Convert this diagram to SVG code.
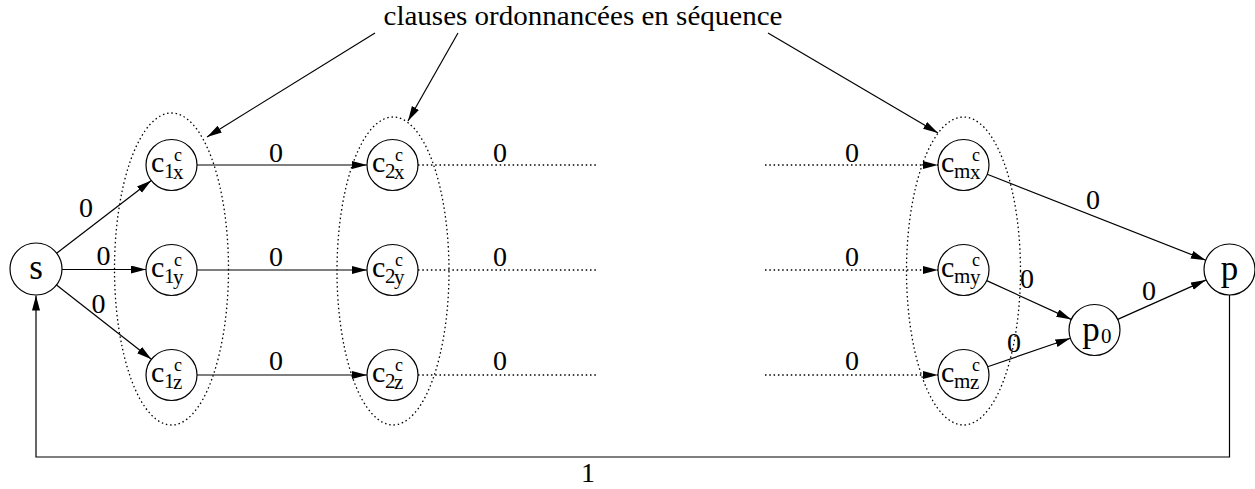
<svg xmlns="http://www.w3.org/2000/svg" width="1255" height="489" viewBox="0 0 1255 489" font-family="'Liberation Serif', 'DejaVu Serif', 'Times New Roman', serif">
<style>
.n{fill:#fff;stroke:#000;stroke-width:1.2}
.e{fill:none;stroke:#000;stroke-width:1.3;stroke-dasharray:1.5,2.8}
.l{fill:none;stroke:#000;stroke-width:1.2}
.d{fill:none;stroke:#000;stroke-width:1.3;stroke-dasharray:1.5,2.8}
text{font-family:'Liberation Serif','DejaVu Serif','Times New Roman',serif;fill:#000}
.big{font-size:30px}
.sub{font-size:21px}
.sup{font-size:18px}
.lab{font-size:28px;text-anchor:middle}
.nm{font-size:35px;text-anchor:middle}
</style>
<defs>
<marker id="ah" markerUnits="userSpaceOnUse" markerWidth="16" markerHeight="10" refX="15" refY="4" orient="auto">
<path d="M0,0 L15,4 L0,8 z" fill="#000"/>
</marker>
</defs>
<rect width="1255" height="489" fill="#fff"/>
<g id="title"><text x="583" y="25" font-size="28" text-anchor="middle" textLength="399" lengthAdjust="spacingAndGlyphs">clauses ordonnancées en séquence</text></g>
<g id="groups">
<ellipse class="e" cx="171.5" cy="269" rx="57" ry="156"/>
<ellipse class="e" cx="393" cy="271" rx="56" ry="154"/>
<ellipse class="e" cx="963.5" cy="271" rx="57" ry="154"/>
</g>
<g id="connectors">
<line class="l" x1="375" y1="33" x2="207" y2="137" marker-end="url(#ah)"/>
<line class="l" x1="458" y1="33" x2="408" y2="121" marker-end="url(#ah)"/>
<line class="l" x1="768" y1="33" x2="938" y2="133" marker-end="url(#ah)"/>
<line class="l" x1="56.6" y1="253.2" x2="151.3" y2="180.5" marker-end="url(#ah)"/>
<line class="l" x1="62" y1="269.5" x2="146" y2="269.5" marker-end="url(#ah)"/>
<line class="l" x1="56.5" y1="285" x2="151.4" y2="359.3" marker-end="url(#ah)"/>
<line class="l" x1="197" y1="165" x2="367" y2="165" marker-end="url(#ah)"/>
<line class="l" x1="197" y1="270" x2="367" y2="270" marker-end="url(#ah)"/>
<line class="l" x1="197" y1="375" x2="367" y2="375" marker-end="url(#ah)"/>
<line class="d" x1="418" y1="165" x2="597" y2="165"/>
<line class="d" x1="418" y1="270" x2="597" y2="270"/>
<line class="d" x1="418" y1="375" x2="597" y2="375"/>
<line class="d" x1="765" y1="165" x2="938" y2="165" marker-end="url(#ah)"/>
<line class="d" x1="765" y1="270" x2="938" y2="270" marker-end="url(#ah)"/>
<line class="d" x1="765" y1="375" x2="938" y2="375" marker-end="url(#ah)"/>
<line class="l" x1="987.2" y1="174.3" x2="1205.8" y2="260.2" marker-end="url(#ah)"/>
<line class="l" x1="986.7" y1="280.6" x2="1071.3" y2="319.4" marker-end="url(#ah)"/>
<line class="l" x1="987.6" y1="366.7" x2="1070.4" y2="338.3" marker-end="url(#ah)"/>
<line class="l" x1="1117.7" y1="319.4" x2="1205.8" y2="280.1" marker-end="url(#ah)"/>
<path class="l" d="M1229.5,295 V457 H36 V295.5" marker-end="url(#ah)"/>
<text class="lab" x="86" y="217">0</text>
<text class="lab" x="103.5" y="265">0</text>
<text class="lab" x="98.5" y="313">0</text>
<text class="lab" x="276" y="162">0</text>
<text class="lab" x="276" y="266">0</text>
<text class="lab" x="276" y="370">0</text>
<text class="lab" x="500" y="162">0</text>
<text class="lab" x="500" y="266">0</text>
<text class="lab" x="500" y="370">0</text>
<text class="lab" x="852" y="162">0</text>
<text class="lab" x="852" y="266">0</text>
<text class="lab" x="852" y="370">0</text>
<text class="lab" x="1093" y="209">0</text>
<text class="lab" x="1027" y="288">0</text>
<text class="lab" x="1149" y="300">0</text>
<text class="lab" x="1014" y="352">0</text>
<text class="lab" x="588" y="482">1</text>
</g>
<g id="s"><circle class="n" cx="36" cy="269" r="26"/><text class="nm" x="36" y="279">s</text></g>
<g id="c1x"><circle class="n" cx="171.5" cy="165" r="25.5"/><text class="big" x="151" y="172">c</text><text class="sub" x="164" y="178">1</text><text class="sup" x="174" y="161">c</text><text class="sub" x="173" y="179">x</text></g>
<g id="c1y"><circle class="n" cx="171.5" cy="270" r="25.5"/><text class="big" x="151" y="277">c</text><text class="sub" x="164" y="283">1</text><text class="sup" x="174" y="266">c</text><text class="sub" x="173" y="284">y</text></g>
<g id="c1z"><circle class="n" cx="171.5" cy="375" r="25.5"/><text class="big" x="151" y="382">c</text><text class="sub" x="164" y="388">1</text><text class="sup" x="174" y="371">c</text><text class="sub" x="173" y="389">z</text></g>
<g id="c2x"><circle class="n" cx="392.5" cy="165" r="25.5"/><text class="big" x="372" y="172">c</text><text class="sub" x="385" y="178">2</text><text class="sup" x="395" y="161">c</text><text class="sub" x="394" y="179">x</text></g>
<g id="c2y"><circle class="n" cx="392.5" cy="270" r="25.5"/><text class="big" x="372" y="277">c</text><text class="sub" x="385" y="283">2</text><text class="sup" x="395" y="266">c</text><text class="sub" x="394" y="284">y</text></g>
<g id="c2z"><circle class="n" cx="392.5" cy="375" r="25.5"/><text class="big" x="372" y="382">c</text><text class="sub" x="385" y="388">2</text><text class="sup" x="395" y="371">c</text><text class="sub" x="394" y="389">z</text></g>
<g id="cmx"><circle class="n" cx="963.5" cy="165" r="25.5"/><text class="big" x="941" y="172">c</text><text class="sub" x="954" y="178">m</text><text class="sup" x="972" y="161">c</text><text class="sub" x="970" y="179">x</text></g>
<g id="cmy"><circle class="n" cx="963.5" cy="270" r="25.5"/><text class="big" x="941" y="277">c</text><text class="sub" x="954" y="283">m</text><text class="sup" x="972" y="266">c</text><text class="sub" x="970" y="284">y</text></g>
<g id="cmz"><circle class="n" cx="963.5" cy="375" r="25.5"/><text class="big" x="941" y="382">c</text><text class="sub" x="954" y="388">m</text><text class="sup" x="972" y="371">c</text><text class="sub" x="970" y="389">z</text></g>
<g id="p0"><circle class="n" cx="1094.5" cy="330" r="25.5"/><text class="nm" x="1091" y="341">p</text><text class="sub" x="1101" y="343">0</text></g>
<g id="p"><circle class="n" cx="1229.5" cy="269.5" r="25.5"/><text class="nm" x="1229.5" y="280">p</text></g>
</svg>
